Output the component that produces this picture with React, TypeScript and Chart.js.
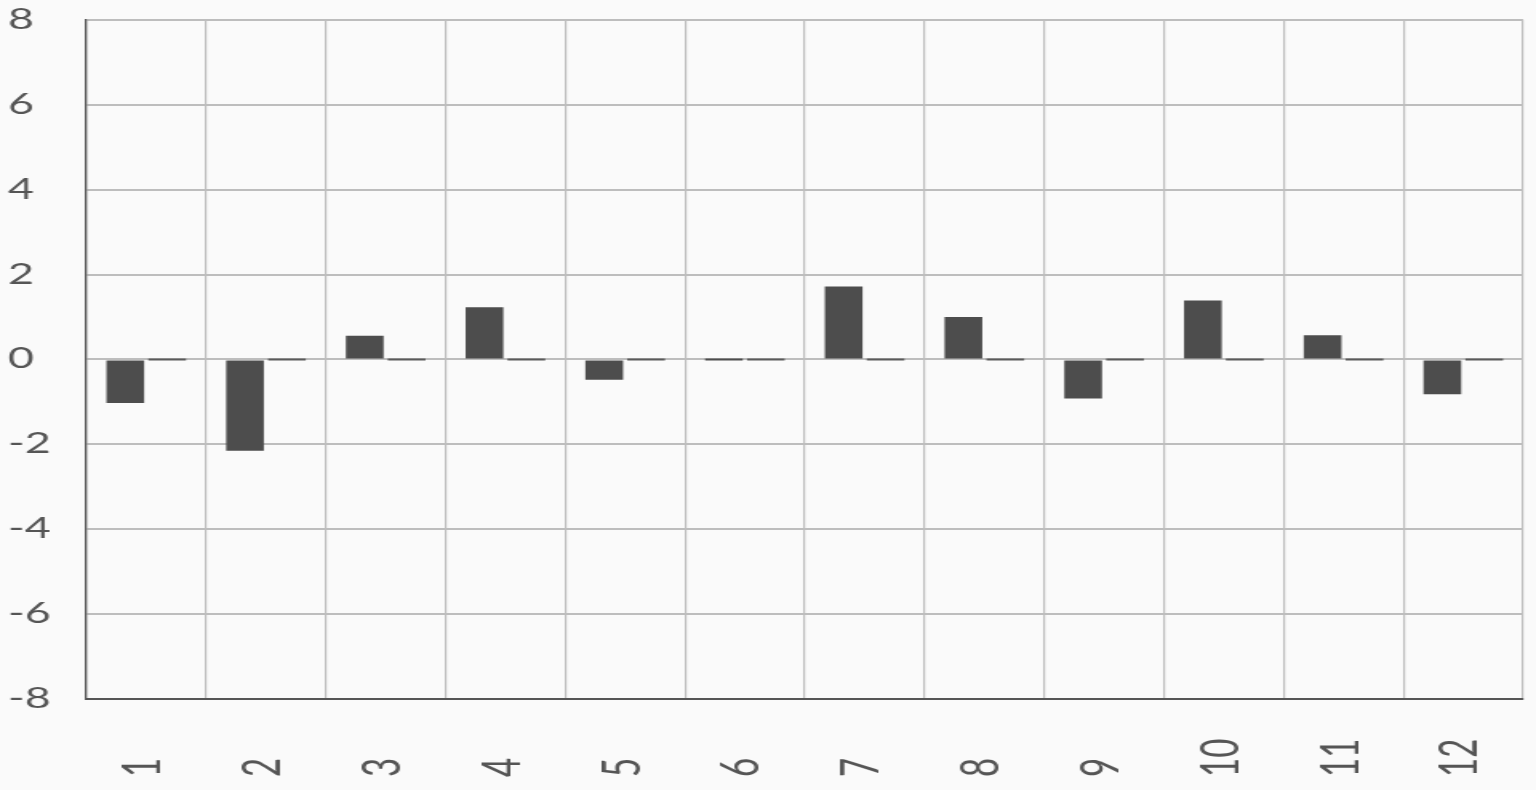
import React, { useEffect, useRef } from "react";
import { Chart, registerables } from "chart.js";

Chart.register(...registerables);

const categories = ["1", "2", "3", "4", "5", "6", "7", "8", "9", "10", "11", "12"];
const seriesA = [-1.03, -2.15, 0.56, 1.23, -0.48, 0, 1.72, 1.0, -0.92, 1.39, 0.57, -0.82];
const seriesB = [0, 0, 0, 0, 0, 0, 0, 0, 0, 0, 0, 0];
const yMin = -8;
const yMax = 8;
const yStep = 2;

const CANVAS_W = 960;
const CANVAS_H = 790;
const LABEL_BASE_Y = 777;
const LABEL_SHIFT = 18;

const xLabelPlugin = {
  id: "xLabelAlign",
  beforeDraw(chart: any) {
    const s = chart.scales.x;
    const items = s.getLabelItems();
    items.forEach((it: any) => {
      it.options.textAlign = "left";
      it.options.textBaseline = "middle";
      it.textOffset = LABEL_SHIFT;
      it.options.translation = [it.options.translation[0], LABEL_BASE_Y];
    });
  },
};

export default function App() {
  const ref = useRef<HTMLCanvasElement | null>(null);
  useEffect(() => {
    if (!ref.current) return;
    const chart = new Chart(ref.current, {
      type: "bar",
      data: {
        labels: categories,
        datasets: [
          {
            label: "A",
            data: seriesA,
            backgroundColor: "#4d4d4d",
            borderWidth: 0,
            minBarLength: 2,
            categoryPercentage: 0.7,
            barPercentage: 0.9,
          },
          {
            label: "B",
            data: seriesB,
            backgroundColor: "#5a5a5a",
            borderWidth: 0,
            minBarLength: 2,
            categoryPercentage: 0.7,
            barPercentage: 0.9,
          },
        ],
      },
      options: {
        animation: false,
        responsive: false,
        devicePixelRatio: 1,
        layout: { padding: { left: 5, right: 8, top: 19, bottom: 0 } },
        plugins: {
          legend: { display: false },
          title: { display: false },
          tooltip: { enabled: false },
        },
        scales: {
          x: {
            offset: true,
            grid: {
              offset: true,
              color: "#bdbdbd",
              lineWidth: 1.2,
              drawTicks: false,
            },
            border: { color: "#555555", width: 2 },
            ticks: {
              color: "#555555",
              font: { family: "Lato", size: 33 },
              minRotation: 90,
              maxRotation: 90,
              autoSkip: false,
            },
            afterFit: (s: any) => {
              s.height = 91;
            },
          },
          y: {
            min: yMin,
            max: yMax,
            grid: { color: "#bdbdbd", lineWidth: 2, drawTicks: false },
            border: { color: "#555555", width: 1.3 },
            ticks: {
              stepSize: yStep,
              color: "#555555",
              font: { family: "Lato", size: 28 },
              crossAlign: "far",
            },
            afterFit: (s: any) => {
              s.width = 49;
            },
          },
        },
      },
      plugins: [xLabelPlugin],
    });
    return () => chart.destroy();
  }, []);
  return (
    <canvas
      ref={ref}
      width={CANVAS_W}
      height={CANVAS_H}
      style={{
        position: "absolute",
        left: 0,
        top: 0,
        width: "1536px",
        height: "790px",
        display: "block",
        background: "#fafafa",
      }}
    />
  );
}
